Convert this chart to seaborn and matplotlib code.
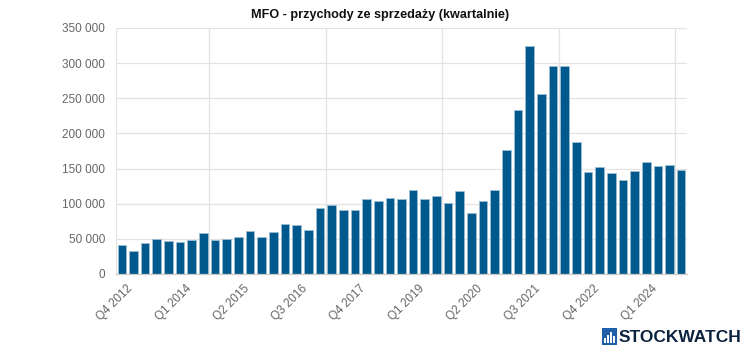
import matplotlib
matplotlib.use("Agg")
import matplotlib.pyplot as plt
import matplotlib.transforms as mtransforms
import seaborn as sns
import pandas as pd
from matplotlib.ticker import FuncFormatter, FixedLocator

quarters = []
y, q = 2012, 4
for _ in range(49):
    quarters.append(f"Q{q} {y}")
    q += 1
    if q > 4:
        q = 1
        y += 1

revenue = [41000, 33200, 44200, 50300, 47000, 46000, 48400, 57900, 48000, 49400,
           52700, 61700, 52200, 59300, 71200, 69300, 62200, 93600, 97800, 91600,
           90700, 107300, 104400, 108700, 106800, 119200, 107300, 111600, 100700, 118200,
           86400, 103500, 119600, 176200, 233600, 324300, 256800, 295300, 295300, 187600,
           144800, 152000, 143900, 133900, 146300, 159100, 153800, 155300, 148100]

title = "MFO - przychody ze sprzedaży (kwartalnie)"
yticks = [0, 50000, 100000, 150000, 200000, 250000, 300000, 350000]

df = pd.DataFrame({"quarter": quarters, "revenue": revenue})

sns.set_theme(style="white")
plt.rcParams['font.family'] = ['Liberation Sans', 'DejaVu Sans']

fig = plt.figure(figsize=(7.5, 3.54), dpi=100)
ax = fig.add_axes([116/750, 1-274/354, (687-116)/750, (274-28)/354])

sns.barplot(data=df, x="quarter", y="revenue", color="#00598c", saturation=1,
            width=0.74, edgecolor="#9dbdd4", linewidth=0.6, ax=ax)

ax.set_xlim(-0.5, len(quarters) - 0.5)
ax.set_ylim(0, 350000)
ax.set_yticks(yticks)
ax.yaxis.set_major_formatter(FuncFormatter(lambda v, p: f"{int(v):,}".replace(",", " ")))
ax.tick_params(axis="y", labelsize=8.5, labelcolor="#666666", length=0, pad=8)
ax.grid(axis="y", color="#e3e3e3", linewidth=0.9)

label_idx = list(range(0, len(quarters), 5))
ax.set_xticks(label_idx)
ax.set_xticklabels([quarters[i] for i in label_idx], rotation=45, ha="right",
                   rotation_mode="anchor", fontsize=8.5, color="#666666")
ax.tick_params(axis="x", which="major", length=0, pad=6)
shift = mtransforms.ScaledTranslation(5/100, 0, fig.dpi_scale_trans)
for lab in ax.get_xticklabels():
    lab.set_transform(lab.get_transform() + shift)
ax.xaxis.set_minor_locator(FixedLocator([-0.5] + [7.5 + 10 * k for k in range(5)]))
ax.tick_params(axis="x", which="minor", length=8, color="#e3e3e3", direction="out")
ax.grid(axis="x", which="minor", color="#e3e3e3", linewidth=0.9)
ax.set_axisbelow(True)

ax.set_xlabel("")
ax.set_ylabel("")
for s in ["top", "right", "left"]:
    ax.spines[s].set_visible(False)
ax.spines["bottom"].set_color("#cccccc")
ax.spines["bottom"].set_linewidth(0.9)

fig.text(0.507, 1 - 15/354, title, ha="center", va="center", fontsize=9.1,
         fontweight="bold", color="#111111")

# logo
fig.patches.append(plt.Rectangle((602/750, 1-345/354), 15/750, 17/354,
                                 transform=fig.transFigure, facecolor="#1d5fa8",
                                 edgecolor="none"))
for i, h in enumerate([5, 8, 11, 7]):
    fig.patches.append(plt.Rectangle(((604 + 3 * i)/750, 1-343/354), 2/750, h/354,
                                     transform=fig.transFigure, facecolor="white",
                                     edgecolor="none"))
fig.text(619/750, 1-337/354, "STOCKWATCH", ha="left", va="center", fontsize=12.5,
         fontweight="bold", color="#0c2340", family=["Liberation Sans Narrow", "Liberation Sans"])

fig.savefig("out.png", dpi=100)
